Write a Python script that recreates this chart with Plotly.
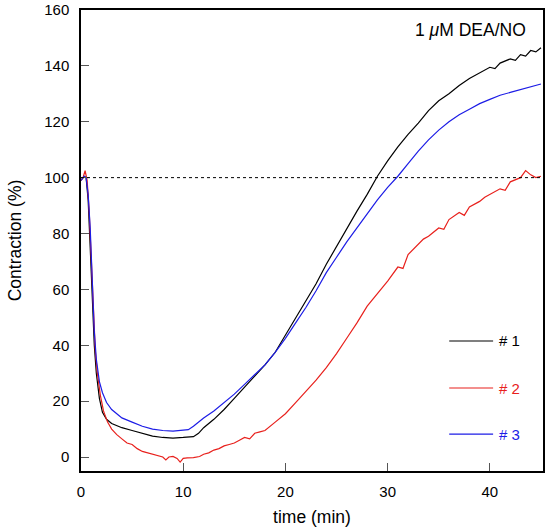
import plotly.graph_objects as go

# ---- data ----
t1 = [0, 0.3, 0.5, 0.7, 0.9, 1.1, 1.3, 1.5, 1.8, 2.1, 2.5, 3, 3.5, 4, 5, 6, 7, 8, 9, 10, 11, 11.5,
      12, 13, 14, 15, 16, 17, 18, 19, 20, 21, 22, 23, 24, 25, 26, 27, 28, 29, 30, 31, 32, 33, 34,
      35, 36, 37, 38, 39, 40, 40.5, 41, 42, 42.5, 43, 43.5, 44, 44.5, 45]
v1 = [99, 100.5, 100, 92, 75, 55, 40, 30, 21, 16, 13.5, 12, 11.2, 10.5, 9.5, 8.5, 7.5, 7, 6.8, 7, 7.3, 8.5,
      10.5, 13.5, 17, 21, 25, 29, 33, 37.5, 43.5, 49.5, 55.5, 62, 69, 75.5, 82, 88, 94, 100.5,
      106, 111, 115.5, 119.5, 124, 127.5, 130, 133, 135.5, 137.5, 139.5, 139, 141, 142.5, 142, 144, 143.5, 145.5, 145, 146.5]

t2 = [0, 0.2, 0.4, 0.6, 0.8, 1.0, 1.2, 1.4, 1.6, 1.9, 2.2, 2.6, 3, 3.5, 4, 4.5, 5, 5.5, 6, 6.5, 7,
      7.5, 8, 8.3, 8.6, 9, 9.4, 9.7, 10, 10.4, 11, 11.6, 12, 12.5, 13, 13.5, 14, 14.5, 15, 15.5, 16,
      16.5, 17, 17.5, 18, 19, 20, 21, 22, 23, 24, 25, 26, 27, 28, 29, 30, 31, 31.5, 32, 33, 33.5,
      34, 35, 35.5, 36, 37, 37.5, 38, 39, 39.5, 40, 41, 41.5, 42, 43, 43.5, 44, 44.5, 45]
v2 = [99, 100, 102.5, 99, 88, 70, 50, 38, 30, 22, 16.5, 12.5, 10, 8, 6.5, 5, 4.5, 3, 2, 1.5, 1,
      0.5, 0, -1, 0, 0.2, -0.5, -1.8, -0.5, -0.3, -0.2, 0.2, 1, 1.5, 2.5, 3, 4, 4.5, 5, 6, 7,
      6.5, 8.5, 9, 9.5, 12.5, 15.5, 19.5, 23.5, 27.5, 32, 37, 42.5, 48, 54, 58.5, 63, 68, 67.5, 72.5, 76, 78,
      79, 82, 81.5, 85, 87.5, 86.5, 89.5, 91.5, 93, 94, 96, 95.5, 98.5, 100, 102.5, 101, 100, 100.5]

t3 = [0, 0.3, 0.5, 0.7, 0.9, 1.1, 1.3, 1.5, 1.8, 2.1, 2.5, 3, 3.5, 4, 5, 6, 7, 8, 9, 10, 10.5, 11,
      12, 13, 14, 15, 16, 17, 18, 19, 20, 21, 22, 23, 24, 25, 26, 27, 28, 29, 30, 31, 32, 33, 34,
      35, 36, 37, 38, 39, 40, 41, 42, 43, 44, 45]
v3 = [99, 100.5, 100, 94, 82, 62, 45, 35, 27, 23, 19.5, 17, 15.5, 14, 12.5, 11, 10, 9.5, 9.3, 9.5, 9.8, 11,
      14, 16.5, 19.5, 22.5, 26, 29.5, 33, 37.5, 42.5, 48, 53.5, 59.5, 66, 71.5, 77, 82, 87, 92,
      96.5, 100.5, 105, 109.5, 113.5, 117, 120, 122.5, 124.5, 126.5, 128, 129.5, 130.5, 131.5, 132.5, 133.5]

names = ["# 1", "# 2", "# 3"]
colors = ["#000000", "#e8201c", "#1c1ce6"]
ref_level = 100
x_ticks = [0, 10, 20, 30, 40]
y_ticks = [0, 20, 40, 60, 80, 100, 120, 140, 160]

FONT = "Liberation Sans, Arial, Helvetica, sans-serif"

fig = go.Figure()
for t, v, c in zip([t1, t2, t3], [v1, v2, v3], colors):
    fig.add_trace(go.Scatter(x=t, y=v, mode="lines", line=dict(color=c, width=1.2),
                             showlegend=False, hoverinfo="skip"))

# dashed reference line at 100 %
fig.add_shape(type="line", xref="paper", x0=0, x1=1, yref="y", y0=ref_level, y1=ref_level,
              line=dict(color="black", width=1, dash="dot"))

# legend-like line samples with labels
leg_y = [0.282, 0.180, 0.080]
for n, c, yy in zip(names, colors, leg_y):
    fig.add_shape(type="line", xref="paper", yref="paper", x0=0.797, x1=0.892, y0=yy, y1=yy,
                  line=dict(color=c, width=1.2))
    fig.add_annotation(xref="paper", yref="paper", x=0.9, y=yy, text=n, showarrow=False,
                       xanchor="left", yanchor="middle", font=dict(family=FONT, size=15, color=c))

fig.add_annotation(xref="paper", yref="paper", x=0.968, y=0.957,
                   text="1 <i>μ</i>M DEA/NO", showarrow=False, xanchor="right", yanchor="middle",
                   font=dict(family=FONT, size=17.5, color="black"))

axis_common = dict(showgrid=False, zeroline=False, showline=True, linecolor="black", linewidth=1.5,
                   mirror=True, ticks="inside", ticklen=8, tickcolor="#555555", tickwidth=1,
                   automargin=False,
                   tickfont=dict(family=FONT, size=15, color="black"))

fig.update_layout(
    width=552, height=527,
    margin=dict(l=81, r=9, t=10, b=56),
    paper_bgcolor="white", plot_bgcolor="white",
    xaxis=dict(range=[0, 45.2], tickvals=x_ticks, ticklabelstandoff=6,
               title=dict(text="time (min)", font=dict(family=FONT, size=17.5, color="black"), standoff=14),
               **axis_common),
    yaxis=dict(range=[-5, 160], tickvals=y_ticks, ticklabelstandoff=7,
               title=dict(text="Contraction (%)", font=dict(family=FONT, size=17.5, color="black"), standoff=18),
               **axis_common),
)

fig.write_html("out.html")
